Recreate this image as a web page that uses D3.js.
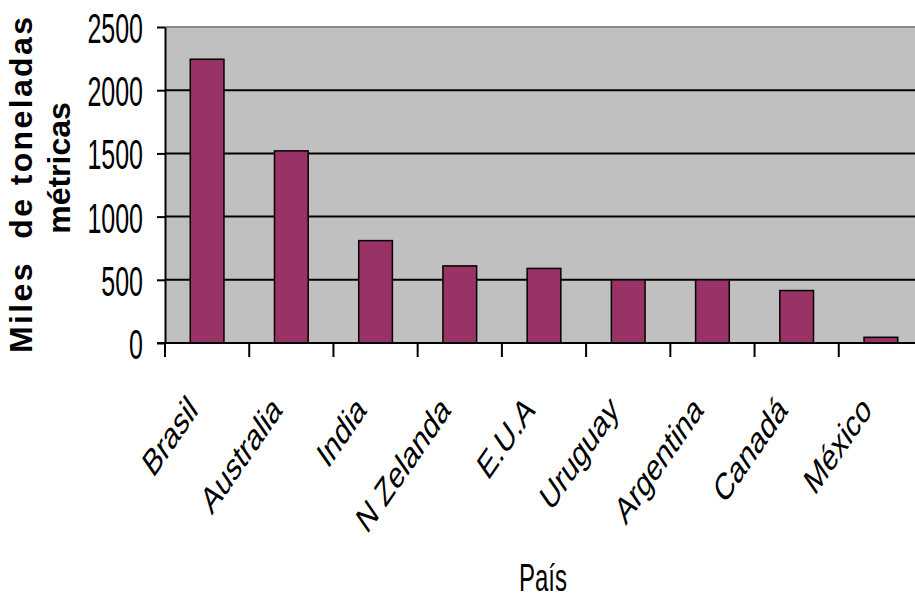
<!DOCTYPE html>
<html><head><meta charset="utf-8">
<script src="https://cdn.jsdelivr.net/npm/d3@7"></script>
<style>body{margin:0;background:#fff}svg{display:block}</style>
</head><body><svg id="c" width="915" height="601"></svg>
<script>
const categories = ["Brasil","Australia","India","N Zelanda","E.U.A","Uruguay","Argentina","Canadá","México"];
const values = [2245, 1520, 810, 610, 590, 500, 500, 415, 45];
const yTicks = [0, 500, 1000, 1500, 2000, 2500];
const yTitleLines = ["Miles  de toneladas", "métricas"];
const xTitle = "País";

(function () {
const FONT = "'Liberation Sans', Arial, sans-serif";
const svg = d3.select("#c");
const pL = 165, pR = 923, pT = 27, pB = 343;

const x = d3.scaleBand().domain(categories).range([pL, pR]).paddingInner(0.6).paddingOuter(0.3);
const y = d3.scaleLinear().domain([0, 2500]).range([pB, pT]);

// plot area
svg.append("rect").attr("x", pL).attr("y", pT).attr("width", pR - pL).attr("height", pB - pT).attr("fill", "#c0c0c0");
svg.append("line").attr("x1", pL).attr("x2", pR).attr("y1", y(2500)).attr("y2", y(2500)).attr("stroke", "#8a8a8a").attr("stroke-width", 2);

// gridlines
svg.append("g").selectAll("line").data(yTicks.filter(t => t > 0 && t < 2500)).join("line")
  .attr("x1", pL).attr("x2", pR).attr("y1", d => y(d)).attr("y2", d => y(d))
  .attr("stroke", "#000").attr("stroke-width", 2);

// bars
svg.append("g").selectAll("rect").data(values).join("rect")
  .attr("x", (d, i) => x(categories[i])).attr("y", d => y(d))
  .attr("width", x.bandwidth()).attr("height", d => y(0) - y(d))
  .attr("fill", "#993366").attr("stroke", "#000").attr("stroke-width", 1.5);

// y axis
const yAxis = svg.append("g").attr("transform", `translate(${pL},0)`)
  .call(d3.axisLeft(y).tickValues(yTicks).tickSize(8).tickSizeOuter(0).tickPadding(14).tickFormat(d3.format("d")));
yAxis.select(".domain").attr("stroke", "#000").attr("stroke-width", 2);
yAxis.selectAll(".tick line").attr("stroke", "#000").attr("stroke-width", 2);
yAxis.selectAll(".tick text").attr("font-family", FONT).attr("font-size", 25).attr("fill", "#000")
  .attr("dy", 9).attr("transform", "scale(1,1.72)");

// x axis
const gap = x.step() - x.bandwidth();
const bounds = categories.map(c => x(c) - gap / 2).concat([x(categories[categories.length - 1]) + x.bandwidth() + gap / 2]);
svg.append("line").attr("x1", pL - 8).attr("x2", pR).attr("y1", y(0)).attr("y2", y(0)).attr("stroke", "#000").attr("stroke-width", 2);
svg.append("g").selectAll("line").data(bounds).join("line")
  .attr("x1", d => d).attr("x2", d => d).attr("y1", y(0)).attr("y2", y(0) + 14)
  .attr("stroke", "#000").attr("stroke-width", 2);

// x labels
svg.append("g").selectAll("text").data(categories).join("text")
  .attr("transform", d => `translate(${x(d) + x.bandwidth() / 2 - 8},412) scale(1,1.45) rotate(-45)`)
  .attr("text-anchor", "end").attr("font-family", FONT).attr("font-size", 26).attr("fill", "#000")
  .text(d => d);

// x title
svg.append("text").attr("transform", "translate(543,591) scale(1,1.65)")
  .attr("text-anchor", "middle").attr("font-family", FONT).attr("font-size", 24).attr("fill", "#000")
  .text(xTitle);

// y title
svg.append("text").attr("transform", "translate(32,185) rotate(-90)")
  .attr("text-anchor", "middle").attr("font-family", FONT).attr("font-weight", "bold").attr("font-size", 32)
  .attr("fill", "#000").style("white-space", "pre")
  .attr("textLength", 336).attr("lengthAdjust", "spacing")
  .text(yTitleLines[0]);
svg.append("text").attr("transform", "translate(70,168) rotate(-90)")
  .attr("text-anchor", "middle").attr("font-family", FONT).attr("font-weight", "bold").attr("font-size", 32)
  .attr("fill", "#000")
  .text(yTitleLines[1]);
})();
</script></body></html>
